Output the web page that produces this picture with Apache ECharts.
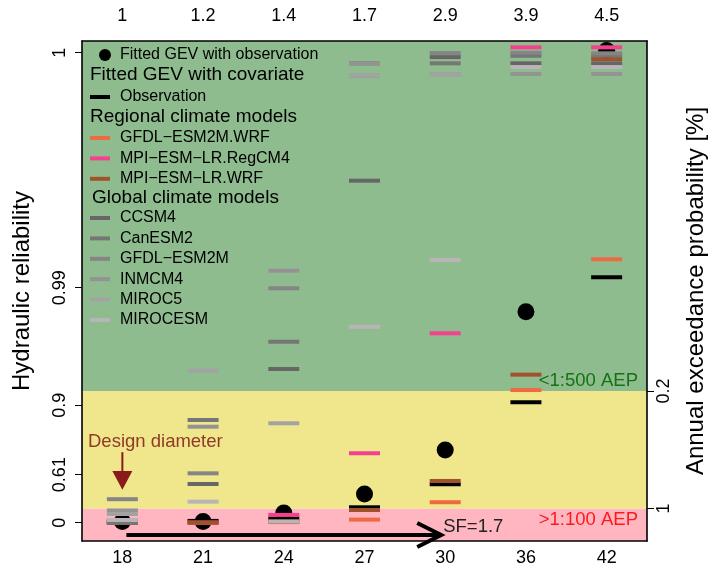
<!DOCTYPE html>
<html><head><meta charset="utf-8">
<script src="https://cdn.jsdelivr.net/npm/echarts@6/dist/echarts.min.js"></script>
<style>html,body{margin:0;padding:0;background:#fff}#main{width:712px;height:571px}</style>
</head><body><div id="main"></div>
<script>
// ---- data (y values are reliability index u = -log10(1 - R)) ----
const diameters = ['18', '21', '24', '27', '30', '36', '42'];
const safetyFactors = ['1', '1.2', '1.4', '1.7', '2.9', '3.9', '4.5'];

const gevObservation = [0.01, 0.01, 0.083, 0.244, 0.619, 1.796, 4.02];
const observation    = [0.01, 0.015, 0.036, 0.131, 0.327, 1.025, 2.089];
const gfdlEsm2mWrf   = [0.0, 0.0, 0.005, 0.026, 0.174, 1.129, 2.242];
const mpiEsmLrRegcm4 = [0.0, 0.0, 0.066, 0.591, 1.612, 4.046, 4.046];
const mpiEsmLrWrf    = [0.0, 0.0, 0.01, 0.108, 0.355, 1.26, 3.946];
const ccsm4          = [0.015, 0.329, 1.308, 2.911, 3.963, 3.91, 3.91];
const canesm2        = [0.0, 0.874, 1.54, 3.91, 3.91, 3.974, 3.978];
const gfdlEsm2m      = [0.2, 0.42, 1.995, 3.804, 3.997, 4.0, 3.995];
const inmcm4         = [0.104, 0.817, 2.145, 3.91, 3.816, 3.819, 3.819];
const miroc5         = [0.074, 1.294, 0.846, 3.804, 3.816, 3.878, 3.878];
const mirocesm       = [0.023, 0.179, 0.01, 1.668, 2.236, 3.878, 3.878];

const reliabilityTickValues = [0, 0.409, 1, 2, 4];
const reliabilityTickLabels = ['0', '0.61', '0.9', '0.99', '1'];
const aepTickValues = [0.121, 1.121];
const aepTickLabels = ['1', '0.2'];
const yRange = [-0.156, 4.10];
const aep100 = 0.121, aep500 = 1.121;

// ---- chart ----
const FONT = 'Liberation Sans, Arial, sans-serif';
const chart = echarts.init(document.getElementById('main'));

function marks(name, values, color, z) {
  return {
    type: 'scatter', name: name, silent: true, z: z || 3,
    symbol: 'rect', symbolSize: [31, 4],
    itemStyle: { color: color, opacity: 1 },
    data: values.map((v, i) => [i, v])
  };
}

const axisLineStyle = { color: '#000', width: 1.6 };
const tickFont = { color: '#000', fontSize: 18, fontFamily: FONT };

const legendBase = {
  orient: 'vertical', padding: 0, itemGap: 4.4, selectedMode: false,
  itemWidth: 20, itemHeight: 4, icon: 'rect',
  textStyle: { color: '#000', fontSize: 16, fontFamily: FONT, lineHeight: 16, padding: [0, 0, 0, 5] }
};

const option = {
  animation: false,
  grid: { left: 82, right: 65, top: 41, bottom: 30, containLabel: false, outerBoundsMode: 'none' },
  xAxis: [
    { type: 'category', data: diameters, position: 'bottom', z: 6,
      axisLine: { onZero: false, lineStyle: axisLineStyle }, axisTick: { alignWithLabel: true, length: 8, lineStyle: { color: '#000' } },
      axisLabel: Object.assign({ margin: 8 }, tickFont), splitLine: { show: false } },
    { type: 'category', data: safetyFactors, position: 'top', z: 6,
      axisLine: { onZero: false, lineStyle: axisLineStyle }, axisTick: { alignWithLabel: true, length: 8, lineStyle: { color: '#000' } },
      axisLabel: Object.assign({ margin: 16 }, tickFont), splitLine: { show: false } }
  ],
  yAxis: [
    { type: 'value', min: yRange[0], max: yRange[1], position: 'left', z: 6,
      name: 'Hydraulic reliability', nameLocation: 'middle', nameGap: 48,
      nameTextStyle: { color: '#000', fontSize: 24, fontFamily: FONT },
      axisLine: { show: true, onZero: false, lineStyle: axisLineStyle },
      axisTick: { show: true, length: 7, customValues: reliabilityTickValues, lineStyle: { color: '#000' } },
      axisLabel: Object.assign({ rotate: 90, margin: 13, customValues: reliabilityTickValues,
        formatter: v => reliabilityTickLabels[reliabilityTickValues.findIndex(t => Math.abs(t - v) < 1e-6)] || '' }, tickFont),
      splitLine: { show: false } },
    { type: 'value', min: yRange[0], max: yRange[1], position: 'right', z: 6,
      name: 'Annual exceedance probability [%]', nameLocation: 'middle', nameGap: 37,
      nameTextStyle: { color: '#000', fontSize: 24, fontFamily: FONT },
      axisLine: { show: true, onZero: false, lineStyle: axisLineStyle },
      axisTick: { show: true, length: 7, customValues: aepTickValues, lineStyle: { color: '#000' } },
      axisLabel: Object.assign({ rotate: 90, margin: 8, customValues: aepTickValues,
        formatter: v => aepTickLabels[aepTickValues.findIndex(t => Math.abs(t - v) < 1e-6)] || '' }, tickFont),
      splitLine: { show: false } }
  ],
  legend: [
    Object.assign({}, legendBase, { left: 99, top: 47, icon: 'circle', itemWidth: 12, itemHeight: 12,
      textStyle: Object.assign({}, legendBase.textStyle, { padding: [0, 0, 0, 4] }),
      data: ['Fitted GEV with observation'] }),
    Object.assign({}, legendBase, { left: 90, top: 89, data: ['Observation'] }),
    Object.assign({}, legendBase, { left: 90, top: 130, data: ['GFDL\u2212ESM2M.WRF', 'MPI\u2212ESM\u2212LR.RegCM4', 'MPI\u2212ESM\u2212LR.WRF'] }),
    Object.assign({}, legendBase, { left: 90, top: 210, data: ['CCSM4', 'CanESM2', 'GFDL\u2212ESM2M', 'INMCM4', 'MIROC5', 'MIROCESM'] })
  ],
  series: [
    { type: 'scatter', name: 'bands', data: [], silent: true, z: 1,
      markArea: { silent: true, data: [
        [{ yAxis: yRange[0], itemStyle: { color: '#ffb6c1', opacity: 1 } }, { yAxis: aep100 }],
        [{ yAxis: aep100, itemStyle: { color: '#f0e68c', opacity: 1 } }, { yAxis: aep500 }],
        [{ yAxis: aep500, itemStyle: { color: '#8fbc8f', opacity: 1 } }, { yAxis: yRange[1] }]
      ] } },
    { type: 'scatter', name: 'Fitted GEV with observation', silent: true, z: 3,
      symbol: 'circle', symbolSize: 17, itemStyle: { color: '#000', opacity: 1 },
      data: gevObservation.map((v, i) => [i, v]) },
    marks('Observation', observation, '#000000'),
    marks('GFDL\u2212ESM2M.WRF', gfdlEsm2mWrf, '#ee6a43'),
    marks('MPI\u2212ESM\u2212LR.RegCM4', mpiEsmLrRegcm4, '#f4408f'),
    marks('MPI\u2212ESM\u2212LR.WRF', mpiEsmLrWrf, '#a0522d'),
    marks('CCSM4', ccsm4, '#666666'),
    marks('CanESM2', canesm2, '#767676'),
    marks('GFDL\u2212ESM2M', gfdlEsm2m, '#858585'),
    marks('INMCM4', inmcm4, '#939393'),
    marks('MIROC5', miroc5, '#a3a3a3'),
    marks('MIROCESM', mirocesm, '#b8b4b8')
  ]
};
chart.setOption(option);

// ---- annotations positioned through the axes ----
function px(i, u) { return chart.convertToPixel({ gridIndex: 0 }, [i, u]); }
const gr = chart.getModel().getComponent('grid').coordinateSystem.getRect();
const p18 = px(0, 0), p30 = px(4, 0);
const yStemTop = px(0, 0.60)[1], yStemBot = px(0, 0.44)[1], yTip = px(0, 0.28)[1];
const ySF = px(0, -0.105)[1];
const y500 = px(0, aep500)[1], y100 = px(0, aep100)[1];
const xRight = gr.x + gr.width;
const Z = 50;

chart.setOption({
  graphic: [
    { type: 'text', z: Z, left: 90, top: 65, style: { text: 'Fitted GEV with covariate', fill: '#000', font: '19px ' + FONT } },
    { type: 'text', z: Z, left: 90, top: 107, style: { text: 'Regional climate models', fill: '#000', font: '19px ' + FONT } },
    { type: 'text', z: Z, left: 92, top: 188, style: { text: 'Global climate models', fill: '#000', font: '19px ' + FONT } },
    { type: 'text', z: Z, x: xRight - 9, y: y500 - 1, style: { text: '<1:500 AEP', fill: '#137313', font: '18.5px ' + FONT, align: 'right', verticalAlign: 'bottom' } },
    { type: 'text', z: Z, x: xRight - 9, y: y100 + 11, style: { text: '>1:100 AEP', fill: '#ff1a1a', font: '18.5px ' + FONT, align: 'right', verticalAlign: 'middle' } },
    { type: 'text', z: Z, x: p18[0] + 33, y: yStemTop - 10, style: { text: 'Design diameter', fill: '#8e3a26', font: '18.5px ' + FONT, align: 'center', verticalAlign: 'middle' } },
    { type: 'line', z: Z, shape: { x1: p18[0], y1: yStemTop, x2: p18[0], y2: yStemBot }, style: { stroke: '#8b1a1a', lineWidth: 2 } },
    { type: 'polygon', z: Z, shape: { points: [[p18[0] - 10, yStemBot], [p18[0] + 10, yStemBot], [p18[0], yTip]] }, style: { fill: '#8b1a1a' } },
    { type: 'line', z: Z, shape: { x1: p18[0] + 4, y1: ySF, x2: p30[0] - 4, y2: ySF }, style: { stroke: '#000', lineWidth: 4 } },
    { type: 'polyline', z: Z, shape: { points: [[p30[0] - 28, ySF - 12], [p30[0] - 4, ySF], [p30[0] - 28, ySF + 12]] }, style: { stroke: '#000', lineWidth: 4, fill: null } },
    { type: 'text', z: Z, x: p30[0] - 2, y: ySF - 8, style: { text: 'SF=1.7', fill: '#222', font: '18.5px ' + FONT, align: 'left', verticalAlign: 'middle' } }
  ]
});
</script></body></html>
